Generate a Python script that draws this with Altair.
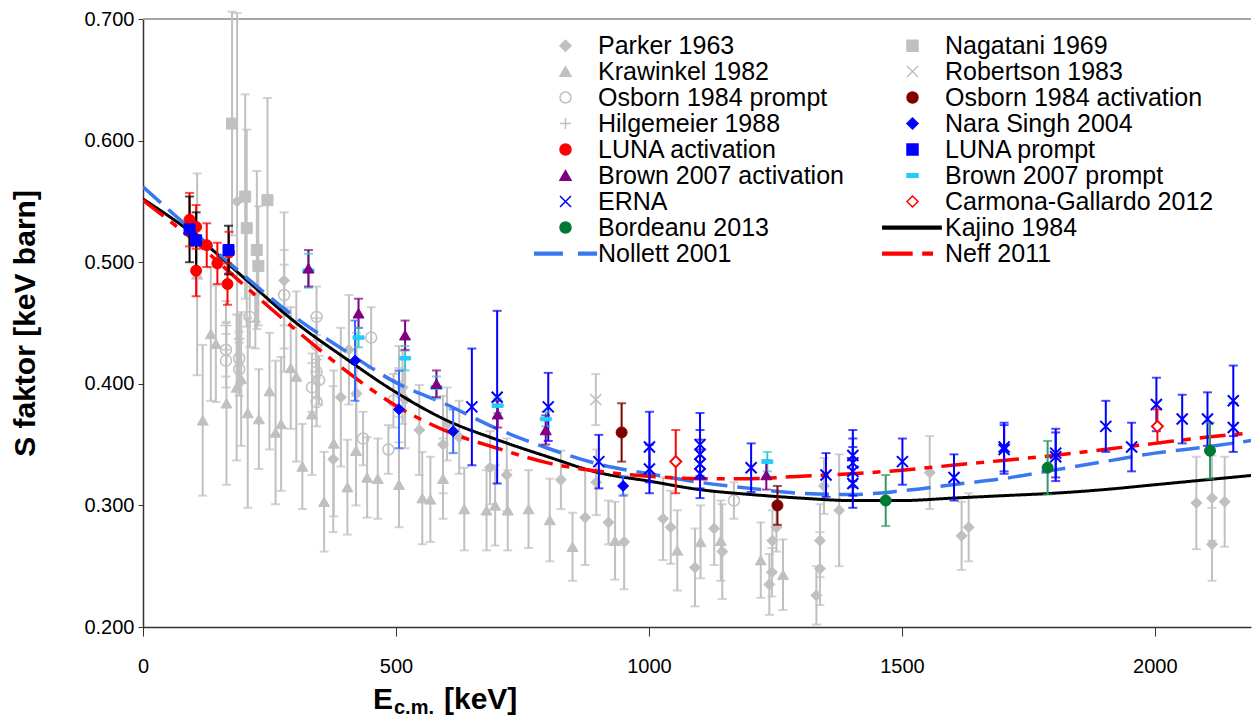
import altair as alt
import pandas as pd

FONT = "Liberation Sans, Arial, sans-serif"

# ---------------- data ----------------
parker_e = [186, 279, 279, 376, 391, 407, 422, 513, 518, 546, 593, 601, 625, 686, 719, 826, 874, 896, 920, 951,
            1028, 1043, 1091, 1129, 1145, 1238, 1243, 1244, 1252, 1331, 1338, 1338, 1346, 1376, 1555, 1618, 1632,
            2082, 2113, 2113, 2138]
parker_s = [0.550, 0.485, 0.460, 0.338, 0.389, 0.428, 0.392, 0.397, 0.387, 0.362, 0.350, 0.367, 0.356, 0.331,
            0.325, 0.321, 0.290, 0.319, 0.286, 0.270, 0.289, 0.282, 0.249, 0.281, 0.262, 0.235, 0.245, 0.271,
            0.282, 0.226, 0.248, 0.271, 0.316, 0.296, 0.327, 0.275, 0.282, 0.302, 0.306, 0.268, 0.303]
parker_err = [0.155, 0.056, 0.050, 0.060, 0.057, 0.045, 0.050, 0.030, 0.040, 0.037, 0.040, 0.030, 0.030, 0.030,
              0.030, 0.024, 0.039, 0.027, 0.018, 0.039, 0.034, 0.030, 0.032, 0.030, 0.039, 0.025, 0.020, 0.025,
              0.020, 0.024, 0.030, 0.030, 0.023, 0.046, 0.030, 0.028, 0.028, 0.038, 0.035, 0.030, 0.037]

nagatani_e = [176, 202, 205, 225, 228, 246]
nagatani_s = [0.614, 0.554, 0.528, 0.510, 0.497, 0.551]
nagatani_err = [0.092, 0.084, 0.081, 0.065, 0.049, 0.084]

krawinkel_e = [107, 118, 134, 144, 165, 185, 194, 207, 229, 250, 262, 273, 292, 303, 315, 334, 358, 377, 404, 421,
               443, 464, 506, 552, 568, 593, 635, 679, 696, 721, 762, 804, 849, 933, 1056, 1102, 1142, 1221, 1265]
krawinkel_s = [0.490, 0.370, 0.441, 0.433, 0.384, 0.397, 0.404, 0.376, 0.371, 0.394, 0.360, 0.367, 0.413, 0.406,
               0.332, 0.375, 0.303, 0.351, 0.315, 0.345, 0.323, 0.322, 0.317, 0.306, 0.305, 0.322, 0.297, 0.296,
               0.300, 0.296, 0.297, 0.288, 0.266, 0.271, 0.263, 0.270, 0.271, 0.255, 0.243]
krawinkel_err = [0.083, 0.062, 0.055, 0.048, 0.067, 0.060, 0.055, 0.078, 0.041, 0.048, 0.059, 0.055, 0.050, 0.070,
                 0.035, 0.050, 0.041, 0.060, 0.039, 0.045, 0.033, 0.033, 0.035, 0.038, 0.035, 0.033, 0.034, 0.033,
                 0.033, 0.033, 0.032, 0.034, 0.028, 0.032, 0.033, 0.030, 0.033, 0.031, 0.029]

robertson_e = [895]
robertson_s = [0.387]
robertson_err = [0.021]

osbornp_e = [164, 164, 190, 190, 211, 279, 334, 343, 343, 343, 343, 348, 435, 451, 485, 495, 506, 1168]
osbornp_s = [0.428, 0.419, 0.421, 0.412, 0.455, 0.473, 0.397, 0.455, 0.432, 0.410, 0.385, 0.403, 0.355, 0.438,
             0.346, 0.386, 0.406, 0.304]
osbornp_err = [0.022, 0.022, 0.022, 0.022, 0.025, 0.025, 0.020, 0.025, 0.022, 0.022, 0.020, 0.020, 0.022, 0.025,
               0.020, 0.022, 0.025, 0.015]

hilge_e = [164, 190, 222, 343, 506]
hilge_s = [0.448, 0.437, 0.451, 0.420, 0.393]
hilge_err = [0.020, 0.020, 0.022, 0.020, 0.020]

osborna_e = [946, 1254]
osborna_s = [0.360, 0.300]
osborna_err = [0.024, 0.016]

nara_e = [419, 506, 613, 949]
nara_s = [0.419, 0.379, 0.361, 0.316]
nara_err = [0.033, 0.032, 0.018, 0.008]

lunaa_e = [92, 105, 105, 126, 147, 167, 170]
lunaa_s = [0.535, 0.529, 0.493, 0.514, 0.499, 0.482, 0.508]
lunaa_err = [0.022, 0.018, 0.021, 0.018, 0.017, 0.017, 0.017]

lunap_e = [92, 105, 169]
lunap_s = [0.527, 0.518, 0.510]
lunap_err = [0.027, 0.023, 0.020]

browna_e = [327, 426, 518, 580, 701, 796, 1232]
browna_s = [0.495, 0.458, 0.440, 0.400, 0.375, 0.362, 0.325]
browna_err = [0.015, 0.012, 0.012, 0.011, 0.011, 0.012, 0.012]

brownp_e = [327, 426, 518, 580, 701, 796, 1234]
brownp_s = [0.493, 0.438, 0.421, 0.397, 0.382, 0.371, 0.336]
brownp_err = [0.014, 0.008, 0.010, 0.009, 0.006, 0.006, 0.008]

erna_e = [650, 700, 801, 901, 1001, 1001, 1101, 1101, 1101, 1101, 1202, 1350, 1403, 1403, 1403, 1403, 1501, 1603,
          1702, 1702, 1804, 1804, 1903, 1954, 2003, 2054, 2104, 2155, 2155]
erna_s = [0.381, 0.389, 0.381, 0.336, 0.348, 0.330, 0.350, 0.342, 0.334, 0.326, 0.331, 0.325, 0.341, 0.335, 0.328,
          0.318, 0.336, 0.323, 0.348, 0.346, 0.343, 0.340, 0.365, 0.348, 0.383, 0.371, 0.371, 0.386, 0.364]
erna_err = [0.048, 0.071, 0.028, 0.022, 0.029, 0.020, 0.026, 0.020, 0.020, 0.020, 0.020, 0.018, 0.021, 0.020, 0.020,
            0.020, 0.019, 0.019, 0.020, 0.020, 0.020, 0.020, 0.021, 0.020, 0.022, 0.020, 0.022, 0.029, 0.020]

carmona_e = [1053, 2005]
carmona_s = [0.336, 0.365]
carmona_err = [0.026, 0.014]

bordeanu_e = [1468, 1788, 2109]
bordeanu_s = [0.304, 0.331, 0.345]
bordeanu_err = [0.021, 0.022, 0.023]

curve_e = [0, 100, 200, 300, 400, 500, 600, 700, 800, 900, 1000, 1100, 1200, 1300, 1400, 1500, 1600, 1700, 1800,
           1900, 2000, 2100, 2200]
kajino_s = [0.552, 0.523, 0.487, 0.451, 0.421, 0.393, 0.370, 0.354, 0.340, 0.327, 0.320, 0.313, 0.309, 0.306,
            0.304, 0.304, 0.306, 0.308, 0.310, 0.313, 0.317, 0.321, 0.325]
nollett_s = [0.562, 0.525, 0.489, 0.455, 0.427, 0.401, 0.383, 0.363, 0.347, 0.334, 0.326, 0.319, 0.314, 0.310,
             0.309, 0.312, 0.317, 0.322, 0.329, 0.336, 0.343, 0.348, 0.354]
neff_s = [0.551, 0.518, 0.481, 0.445, 0.411, 0.382, 0.361, 0.347, 0.335, 0.328, 0.324, 0.322, 0.322, 0.324,
          0.326, 0.329, 0.333, 0.337, 0.341, 0.346, 0.351, 0.356, 0.360]

# legend order (legend fills column by column: left column first, then right column)
SERIES = ["Parker 1963", "Krawinkel 1982", "Osborn 1984 prompt", "Hilgemeier 1988", "LUNA activation",
          "Brown 2007 activation", "ERNA", "Bordeanu 2013", "Nollett 2001",
          "Nagatani 1969", "Robertson 1983", "Osborn 1984 activation", "Nara Singh 2004", "LUNA prompt",
          "Brown 2007 prompt", "Carmona-Gallardo 2012", "Kajino 1984", "Neff 2011"]

# ---------------- styles ----------------
GRAY = "#c0c0c0"
XPATH = "M-1,-1L1,1M-1,1L1,-1"
PLUS = "M-1,0H1M0,-1V1"
DASH = "M-1,-0.32H1V0.32H-1Z"
# legend glyphs for the curves (drawn as thin filled bars)
L_SOLID = "M-5.4,-0.25H5.2V0.25H-5.4Z"
L_DASH = "M-5.6,-0.25H-0.6V0.25H-5.6Z M2.4,-0.25H5.6V0.25H2.4Z"
L_DDOT = "M-5.4,-0.25H-0.1V0.25H-5.4Z M1.9,-0.25H3.6V0.25H1.9Z"
T = "transparent"
# name: (shape, fill, stroke, size, bar colour)
STYLE = {
    "Parker 1963": ("diamond", GRAY, GRAY, 121, GRAY),
    "Nagatani 1969": ("square", GRAY, GRAY, 110, GRAY),
    "Krawinkel 1982": ("triangle-up", GRAY, GRAY, 121, GRAY),
    "Robertson 1983": (XPATH, T, GRAY, 160, GRAY),
    "Osborn 1984 prompt": ("circle", T, GRAY, 100, GRAY),
    "Osborn 1984 activation": ("circle", "#800000", "#800000", 110, "#800000"),
    "Hilgemeier 1988": (PLUS, T, GRAY, 80, GRAY),
    "Nara Singh 2004": ("diamond", "#0000ff", "#0000ff", 121, "#3366ff"),
    "LUNA activation": ("circle", "#ff0000", "#ff0000", 160, "#ff0000"),
    "LUNA prompt": ("square", "#0000ff", "#0000ff", 144, "#000000"),
    "Brown 2007 activation": ("triangle-up", "#800080", "#800080", 169, "#800080"),
    "Brown 2007 prompt": (DASH, "#22ccff", "#22ccff", 121, "#33cccc"),
    "ERNA": (XPATH, T, "#0000ff", 100, "#0000ff"),
    "Carmona-Gallardo 2012": ("diamond", "#ffffff", "#ff0000", 81, "#ff0000"),
    "Bordeanu 2013": ("circle", "#007a33", "#007a33", 90, "#339966"),
    "Kajino 1984": (L_SOLID, "#000000", "#000000", 100, "#000000"),
    "Nollett 2001": (L_DASH, "#3a78f2", "#3a78f2", 100, "#3a78f2"),
    "Neff 2011": (L_DDOT, "#ff0000", "#ff0000", 100, "#ff0000"),
}
# curve styles: (width, dash)
CURVE = {"Kajino 1984": (3, [1, 0]), "Nollett 2001": (3.5, [24, 10]), "Neff 2011": (3.5, [26, 9, 8, 9])}


def sc(i):
    return alt.Scale(domain=SERIES, range=[STYLE[s][i] for s in SERIES])


def rows(name, es, ss, errs):
    return [dict(series=name, E=e, S=s, lo=s - d, hi=s + d, bar=STYLE[name][4]) for e, s, d in zip(es, ss, errs)]


gray_fill_df = pd.DataFrame(rows("Parker 1963", parker_e, parker_s, parker_err)
                            + rows("Nagatani 1969", nagatani_e, nagatani_s, nagatani_err)
                            + rows("Krawinkel 1982", krawinkel_e, krawinkel_s, krawinkel_err))
gray_open_df = pd.DataFrame(rows("Robertson 1983", robertson_e, robertson_s, robertson_err)
                            + rows("Osborn 1984 prompt", osbornp_e, osbornp_s, osbornp_err)
                            + rows("Hilgemeier 1988", hilge_e, hilge_s, hilge_err))
col_fill_df = pd.DataFrame(rows("Osborn 1984 activation", osborna_e, osborna_s, osborna_err)
                           + rows("Nara Singh 2004", nara_e, nara_s, nara_err)
                           + rows("Brown 2007 prompt", brownp_e, brownp_s, brownp_err)
                           + rows("Brown 2007 activation", browna_e, browna_s, browna_err)
                           + rows("Bordeanu 2013", bordeanu_e, bordeanu_s, bordeanu_err)
                           + rows("LUNA activation", lunaa_e, lunaa_s, lunaa_err)
                           + rows("LUNA prompt", lunap_e, lunap_s, lunap_err))
col_open_df = pd.DataFrame(rows("ERNA", erna_e, erna_s, erna_err)
                           + rows("Carmona-Gallardo 2012", carmona_e, carmona_s, carmona_err))
gray_df = pd.concat([gray_fill_df, gray_open_df])
col_df = pd.concat([col_open_df, col_fill_df])

# ---------------- encodings ----------------
XAX = alt.Axis(values=[0, 500, 1000, 1500, 2000], format="d", labelFontSize=20, labelFont=FONT,
               labelColor="#000", labelFlush=False, tickSize=9, tickColor="#333", domainColor="#333",
               domainWidth=1.5, labelPadding=20, grid=False, title=None)
YAX = alt.Axis(values=[0.2, 0.3, 0.4, 0.5, 0.6, 0.7], format=".3f", labelFontSize=20, labelFont=FONT,
               labelColor="#000", labelFlush=False, tickSize=5, tickColor="#333", domainColor="#333",
               domainWidth=1.5, labelPadding=4, grid=False, title="S faktor [keV barn]", titleFont=FONT,
               titleFontSize=30, titleFontWeight="bold", titleColor="#000", titleX=-118, titleY=304,
               titleAngle=270, titleAlign="center", titleBaseline="middle")
XS = alt.Scale(domain=[0, 2190], nice=False, zero=False)
YS = alt.Scale(domain=[0.2, 0.7], nice=False, zero=False)


def X(f="E"):
    return alt.X(f + ":Q", scale=XS, axis=XAX)


def Y(f):
    return alt.Y(f + ":Q", scale=YS, axis=YAX)


def bars(df):
    rule = alt.Chart(df).mark_rule(strokeWidth=2).encode(
        x=X(), y=Y("lo"), y2="hi:Q", color=alt.Color("bar:N", scale=None))
    lo = alt.Chart(df).mark_tick(orient="horizontal", size=9, thickness=2).encode(
        x=X(), y=Y("lo"), color=alt.Color("bar:N", scale=None))
    hi = alt.Chart(df).mark_tick(orient="horizontal", size=9, thickness=2).encode(
        x=X(), y=Y("hi"), color=alt.Color("bar:N", scale=None))
    return [rule, lo, hi]


def points(df, sw):
    return alt.Chart(df).mark_point(filled=True, opacity=1, strokeWidth=sw).encode(
        x=X(), y=Y("S"),
        shape=alt.Shape("series:N", scale=sc(0), title=None),
        fill=alt.Fill("series:N", scale=sc(1), title=None),
        stroke=alt.Stroke("series:N", scale=sc(2), title=None),
        size=alt.Size("series:N", scale=sc(3), title=None),
    )


def curve(name, vals):
    df = pd.DataFrame({"series": name, "E": curve_e, "S": vals})
    w, d = CURVE[name]
    return alt.Chart(df).mark_line(clip=True, interpolate="monotone", strokeWidth=w, strokeDash=d).encode(
        x=X(), y=Y("S"), stroke=alt.Stroke("series:N", scale=sc(2), title=None))


curves = [curve("Kajino 1984", kajino_s), curve("Nollett 2001", nollett_s), curve("Neff 2011", neff_s)]

top = alt.Chart(pd.DataFrame({"v": [0.7]})).mark_rule(color="#a6a6a6", strokeWidth=2).encode(y=Y("v"))


def label(txt, px, py, fs):
    return alt.Chart(pd.DataFrame({"t": [txt]})).mark_text(
        align="left", baseline="alphabetic", font=FONT, fontSize=fs, fontWeight="bold", color="#000"
    ).encode(x=alt.value(px), y=alt.value(py), text="t:N")


layers = ([top] + bars(gray_df) + [points(gray_fill_df, 1), points(gray_open_df, 1.5)] + curves
          + bars(col_df) + [points(col_fill_df, 1), points(col_open_df, 2)]
          + [label("E", 230, 690, 30), label("c.m.", 251, 695, 20), label("[keV]", 301, 690, 30)])

chart = alt.layer(*layers).properties(
    width=1108, height=608,
    padding={"left": 143, "top": 19, "right": 1, "bottom": 91},
    autosize=alt.AutoSizeParams(type="none"),
).configure_view(strokeWidth=0).configure_legend(
    orient="none", legendX=410, legendY=14, columns=2, columnPadding=35, rowPadding=0,
    labelFontSize=25, labelFont=FONT, labelColor="#000", labelLimit=600, labelOffset=20,
    symbolOpacity=1, symbolStrokeWidth=1.5,
)

chart.save("out.html", embed_options={"renderer": "svg", "actions": False})
